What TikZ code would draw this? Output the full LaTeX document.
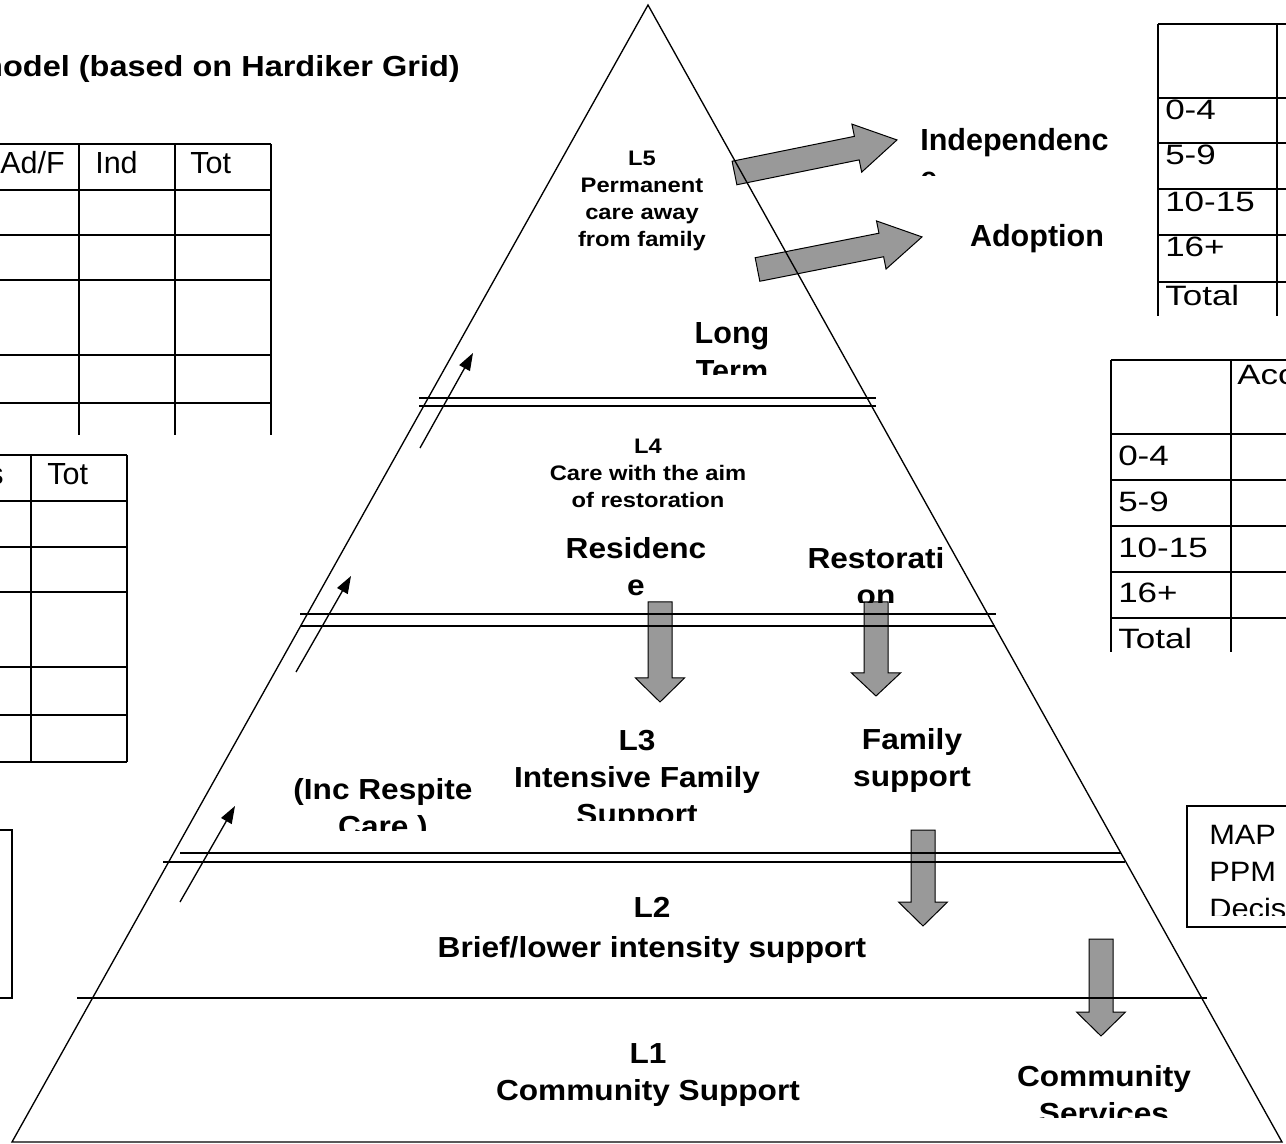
\documentclass[tikz,border=0pt]{standalone}
\usepackage{fontspec}
\setmainfont{Liberation Sans}
\newfontfamily\pyrfont[FakeStretch=1.09]{Liberation Sans}
\newfontfamily\titlefont[FakeStretch=1.12]{Liberation Sans}
\newfontfamily\tagfont[FakeStretch=1.13]{Liberation Sans}
\newfontfamily\agefont[FakeStretch=1.25]{Liberation Sans}
\newfontfamily\notefont[FakeStretch=1.1]{Liberation Sans}
\usetikzlibrary{arrows.meta}
\definecolor{ArrowGray}{HTML}{999999}

\tikzset{
  edge/.style={line width=1pt},
  tabline/.style={line width=1.5pt},
  levelbox/.style={font={\pyrfont\bfseries\fontsize{21.75}{27.75}\selectfont},
    align=center, anchor=north, inner sep=0pt},
  tagbox/.style={font={\tagfont\bfseries\fontsize{15.75}{20.25}\selectfont},
    align=center, anchor=north, inner sep=0pt},
  bigbox/.style={font={\bfseries\fontsize{22.9}{28.5}\selectfont},
    anchor=north, inner sep=0pt},
  cell/.style={font={\fontsize{22.9}{27}\selectfont}, anchor=base west, inner sep=0pt},
  agecell/.style={font={\agefont\fontsize{21}{25}\selectfont}, anchor=base west, inner sep=0pt},
  uparrow/.style={line width=1pt, -{Triangle[length=13pt,width=9pt]}},
  pics/blockarr/.style 2 args={code={
    \draw[line width=0.75pt, fill=ArrowGray]
      (0,-12) -- (#1-#2,-12) -- (#1-#2,-24.5) -- (#1,0)
      -- (#1-#2,24.5) -- (#1-#2,12) -- (0,12) -- cycle;}}
}

\begin{document}
\begin{tikzpicture}[x=0.75pt,y=-0.75pt]
  \useasboundingbox (0,0) rectangle (1286,1144);
  \clip (0,0) rectangle (1286,1144);

  % title
  \node[font={\titlefont\bfseries\fontsize{21.75}{26}\selectfont},
    anchor=base east, inner sep=0pt] (title) at (460,77)
    {model (based on Hardiker Grid)};

  % left tables
  \foreach \y in {144,190,235,280,355,403}
    \draw[tabline] (-5,\y) -- (271,\y);
  \foreach \x in {79,175,271}
    \draw[tabline] (\x,144) -- (\x,435);
  \node[cell] (adf) at (0,174) {Ad/F};
  \node[cell] (ind) at (95,174) {Ind};
  \node[cell] (tot) at (190,174) {Tot};

  \foreach \y in {455,501,547,592,667,715,762}
    \draw[tabline] (-5,\y) -- (127,\y);
  \foreach \x in {31,127}
    \draw[tabline] (\x,455) -- (\x,762);
  \node[cell, anchor=base east] (ress) at (4,485) {s};
  \node[cell] (tottwo) at (47,485) {Tot};

  \draw[tabline] (-5,830) rectangle (12,998);

  % right tables
  \foreach \y in {24,98,143,189,235,282}
    \draw[tabline] (1158,\y) -- (1295,\y);
  \foreach \x in {1158,1277}
    \draw[tabline] (\x,24) -- (\x,316);
  \foreach \y/\lab in {120/0-4,165/5-9,212/10-15,257/16+,306/Total}
    \node[agecell] (ageA-\y) at (1165,\y) {\lab};

  \foreach \y in {360,434,480,526,572,618}
    \draw[tabline] (1111,\y) -- (1295,\y);
  \foreach \x in {1111,1231}
    \draw[tabline] (\x,360) -- (\x,652);
  \foreach \y/\lab in {466/0-4,512/5-9,558/10-15,603/16+,649/Total}
    \node[agecell] (ageB-\y) at (1118,\y) {\lab};
  \node[agecell] (acc) at (1237,385) {Acc};

  % decision box
  \draw[tabline] (1187,806) rectangle (1300,927);
  \begin{scope}
    \clip (1190,810) rectangle (1290,915);
    \node[font={\notefont\fontsize{21}{27.75}\selectfont}, align=left,
      anchor=north west, inner sep=0pt] (map) at (1209,825)
      {MAP\\PPM\\Decis};
  \end{scope}

  % block arrows
  \pic[rotate=11.5] at (734.5,173) {blockarr={165.8}{41}};
  \pic[rotate=11.2] at (757.5,269.5) {blockarr={167.7}{41.5}};
  \pic[rotate=-90] at (660,602) {blockarr={100}{24}};
  \pic[rotate=-90] at (876,602) {blockarr={94}{23}};
  \pic[rotate=-90] at (923,830) {blockarr={96}{24}};
  \pic[rotate=-90] at (1101,939) {blockarr={97}{24}};

  % pyramid
  \coordinate (apex) at (648,5);
  \coordinate (baseR) at (1282,1142);
  \coordinate (baseL) at (12,1142);
  \draw[edge] (apex) -- (baseR) -- (baseL) -- cycle;
  \draw[edge] (419,398) -- (876,398);
  \draw[edge] (419,406) -- (876,406);
  \draw[edge] (300,614) -- (996,614);
  \draw[edge] (300,626) -- (995,626);
  \draw[edge] (180,853) -- (1121,853);
  \draw[edge] (163,862) -- (1125,862);
  \draw[edge] (77,998) -- (1207,998);

  % climbing arrows
  \coordinate (up1s) at (420,448); \coordinate (up1e) at (473,353);
  \coordinate (up2s) at (296,672); \coordinate (up2e) at (351,576);
  \coordinate (up3s) at (180,902); \coordinate (up3e) at (235,806);
  \foreach \i in {1,2,3}
    \draw[uparrow] (up\i s) -- (up\i e);

  % level texts
  \node[tagbox] (lfive) at (642,151)
    {L5\\Permanent\\care away\\from family};
  \node[tagbox] (lfour) at (648,439)
    {L4\\Care with the aim\\of restoration};
  \begin{scope}
    \clip (680,300) rectangle (800,375);
    \node[bigbox, align=center] (longterm) at (732,322) {Long\\Term};
  \end{scope}
  \begin{scope}
    \clip (900,100) rectangle (1150,176);
    \node[bigbox, align=left, anchor=north west] (indep) at (920,128)
      {Independenc\\e};
  \end{scope}
  \node[bigbox] (adopt) at (1037,224) {Adoption};

  \node[levelbox] (resid) at (636,537) {Residenc\\e};
  \begin{scope}
    \clip (790,520) rectangle (960,603);
    \node[levelbox] (restor) at (876,547) {Restorati\\on};
  \end{scope}
  \begin{scope}
    \clip (480,700) rectangle (800,820);
    \node[levelbox] (lthree) at (637,730)
      {L3\\Intensive Family\\Support};
  \end{scope}
  \node[levelbox] (famsup) at (912,728) {Family\\support};
  \begin{scope}
    \clip (270,760) rectangle (500,830);
    \node[levelbox] (respite) at (383,778) {(Inc Respite\\Care )};
  \end{scope}
  \node[levelbox, font={\pyrfont\bfseries\fontsize{21.75}{30}\selectfont}]
    (ltwo) at (652,897) {L2\\Brief/lower intensity support};
  \node[levelbox] (lone) at (648,1043) {L1\\Community Support};
  \begin{scope}
    \clip (1000,1050) rectangle (1210,1117);
    \node[levelbox] (commserv) at (1104,1065) {Community\\Services};
  \end{scope}
\end{tikzpicture}
\end{document}
